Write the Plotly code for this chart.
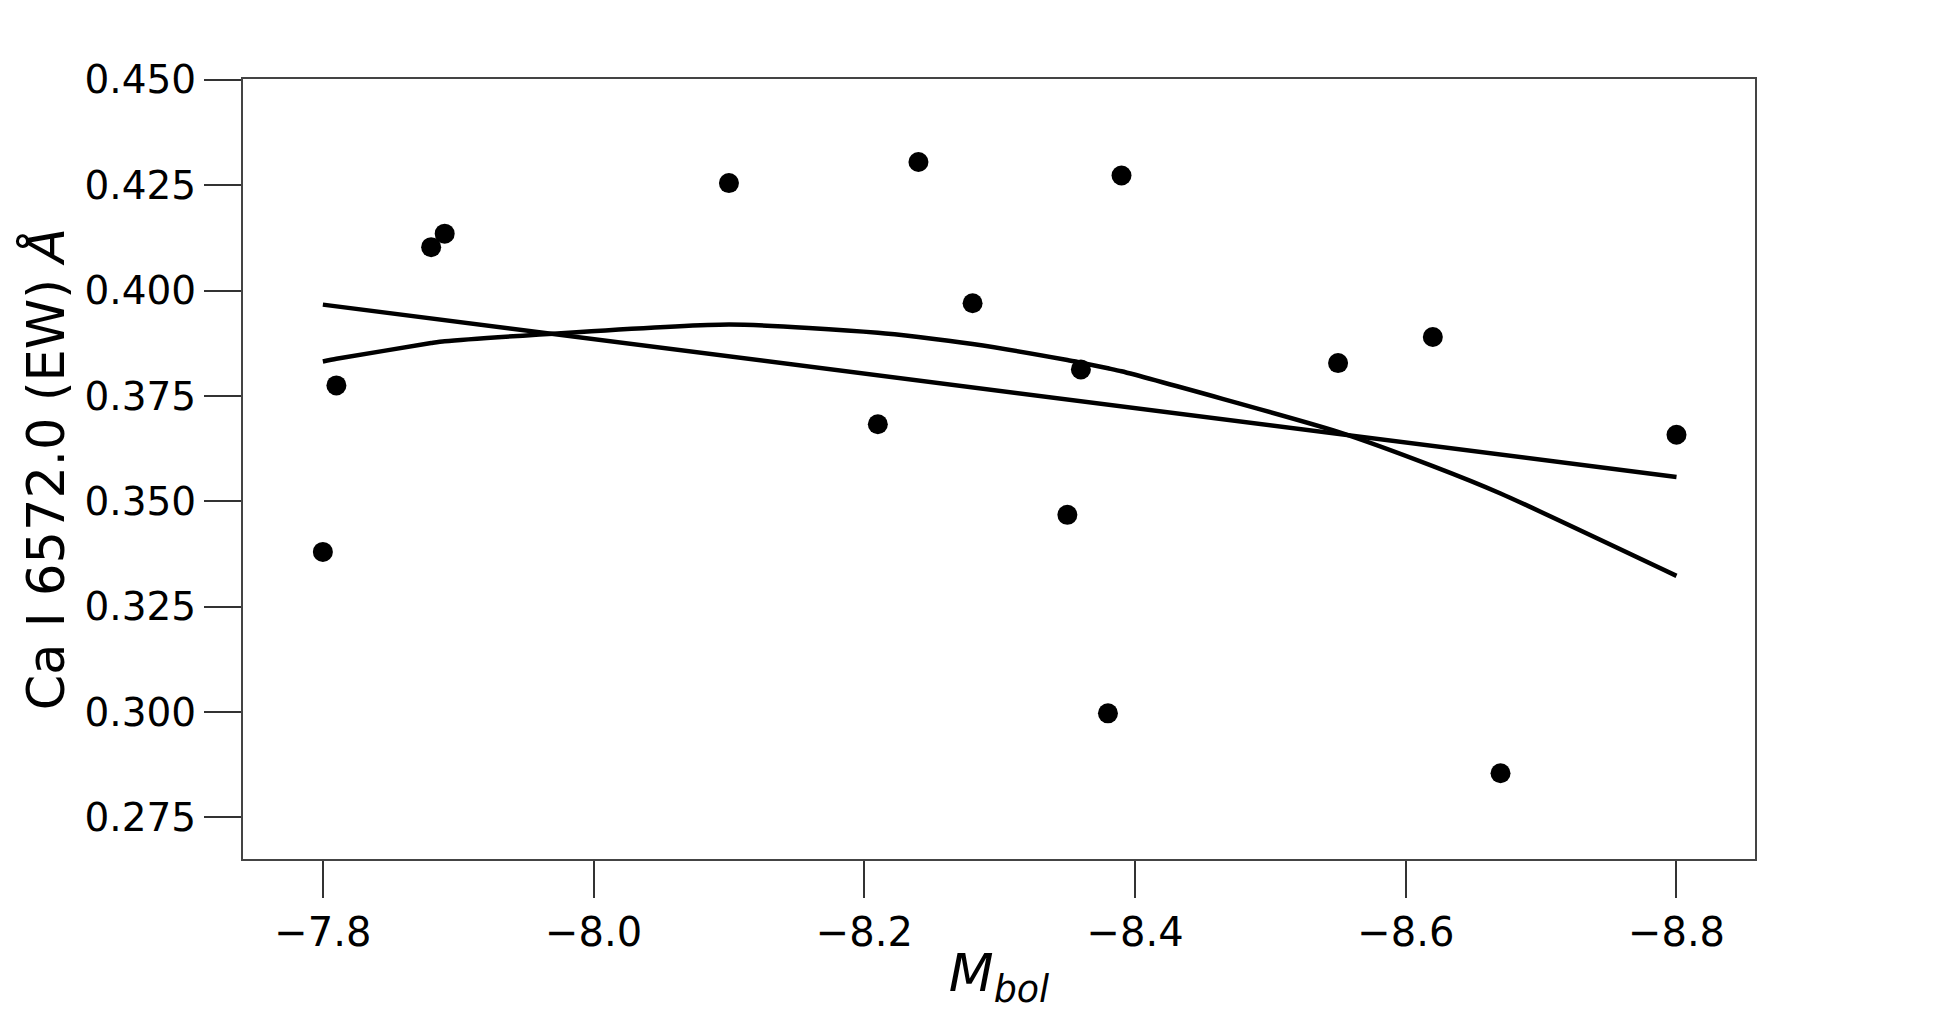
import numpy as np
import plotly.graph_objects as go

# Data
m_bol = [-7.80, -7.81, -7.88, -7.89, -8.10, -8.21, -8.24, -8.28,
         -8.35, -8.36, -8.38, -8.39, -8.55, -8.62, -8.67, -8.80]
ew_ca = [0.338, 0.3775, 0.4103, 0.4135, 0.4255, 0.3683, 0.4305, 0.3970,
         0.3468, 0.3813, 0.2997, 0.4273, 0.3828, 0.3890, 0.2855, 0.3658]

x_ticks = [-7.8, -8.0, -8.2, -8.4, -8.6, -8.8]
x_tick_text = ["\u22127.8", "\u22128.0", "\u22128.2", "\u22128.4", "\u22128.6", "\u22128.8"]
y_ticks = [0.275, 0.300, 0.325, 0.350, 0.375, 0.400, 0.425, 0.450]
y_tick_text = ["0.275", "0.300", "0.325", "0.350", "0.375", "0.400", "0.425", "0.450"]

# Linear and quadratic fits of the data, evaluated at the sorted data x values
xs = np.array(m_bol)
ys = np.array(ew_ca)
order = np.argsort(-xs)
x_fit = xs[order]
lin = np.polyval(np.polyfit(xs, ys, 1), x_fit)
quad = np.polyval(np.polyfit(xs, ys, 2), x_fit)

fig = go.Figure()
fig.add_trace(go.Scatter(x=x_fit, y=lin, mode="lines",
                         line=dict(color="black", width=4.5), showlegend=False))
fig.add_trace(go.Scatter(x=x_fit, y=quad, mode="lines",
                         line=dict(color="black", width=4.5, shape="spline", smoothing=0.6),
                         showlegend=False))
fig.add_trace(go.Scatter(x=m_bol, y=ew_ca, mode="markers",
                         marker=dict(color="black", size=20, line=dict(width=0)),
                         showlegend=False))

fig.update_layout(
    width=1950, height=1011,
    margin=dict(l=243, r=195, t=79, b=152),
    paper_bgcolor="white", plot_bgcolor="white",
    font=dict(family="DejaVu Sans", color="black"),
)
fig.update_xaxes(
    range=[-7.741, -8.858], tickvals=x_ticks, ticktext=x_tick_text,
    showgrid=False, zeroline=False,
    showline=True, linecolor="#444", linewidth=2, mirror=True,
    ticks="outside", ticklen=37, tickwidth=2, tickcolor="#333",
    tickfont=dict(size=40, family="DejaVu Sans", color="black"),
    title=dict(text="<i>M</i><sub><i>bol</i></sub>",
               font=dict(size=52, family="DejaVu Sans", color="black"),
               standoff=6),
)
fig.update_yaxes(
    range=[0.26515, 0.4502], tickvals=y_ticks, ticktext=y_tick_text,
    showgrid=False, zeroline=False,
    showline=True, linecolor="#444", linewidth=2, mirror=True,
    ticks="outside", ticklen=37, tickwidth=2, tickcolor="#333",
    tickfont=dict(size=39, family="DejaVu Sans", color="black"),
    title=dict(text="Ca I 6572.0 (EW) <i>Å</i>",
               font=dict(size=51, family="DejaVu Sans", color="black"),
               standoff=4),
)

fig.write_html("out.html")
